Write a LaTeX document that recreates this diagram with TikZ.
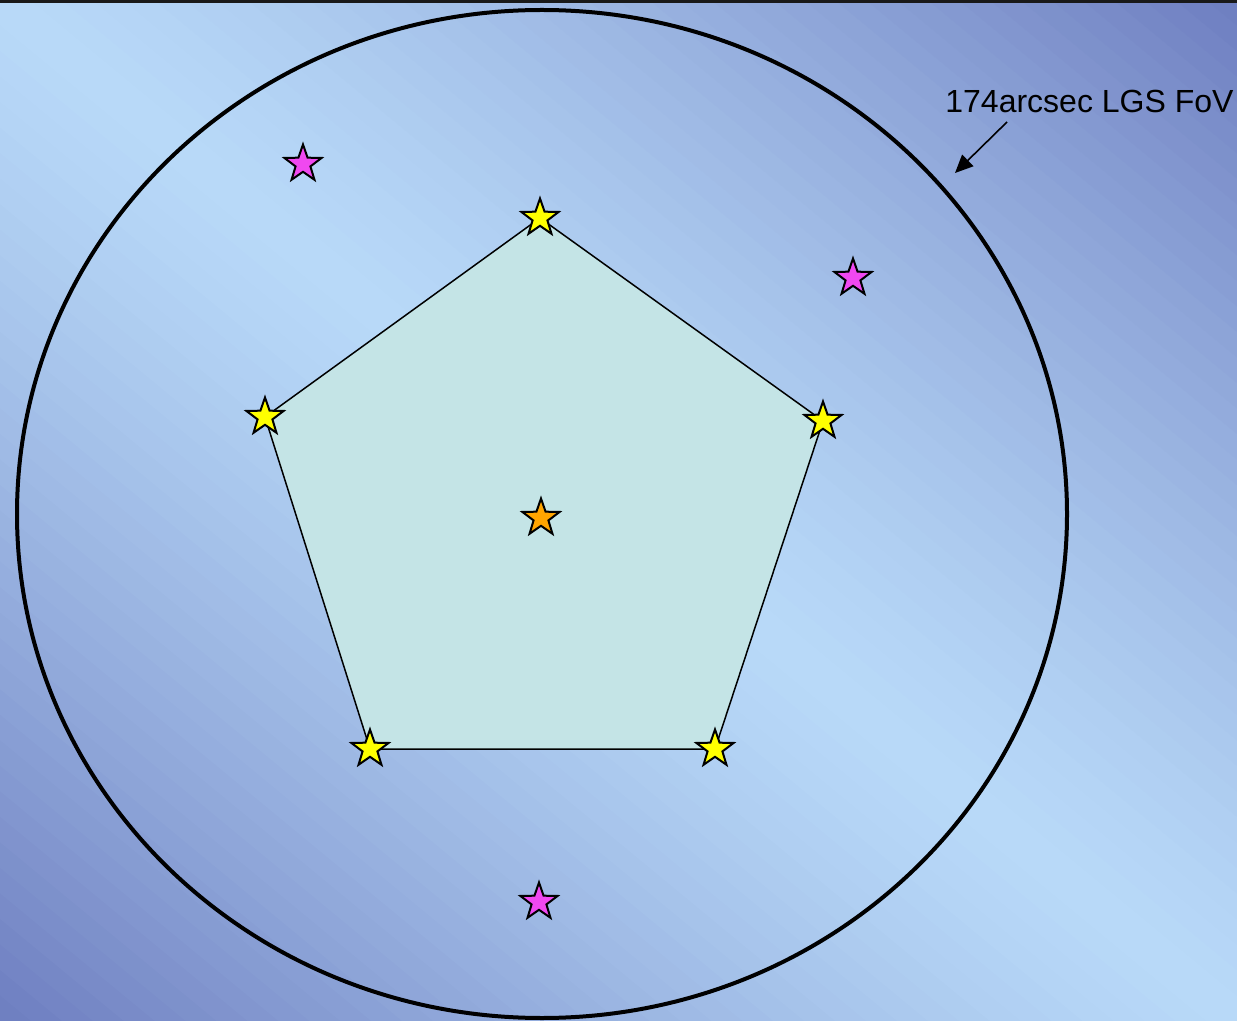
\documentclass[tikz,border=0pt]{standalone}
\usepackage{fontspec}
\setmainfont{Liberation Sans}
\usetikzlibrary{shapes.geometric,arrows.meta}
\definecolor{bgdark}{RGB}{110,126,192}
\definecolor{bglight}{RGB}{184,217,248}
\definecolor{pentfill}{RGB}{196,228,230}
\definecolor{staryellow}{RGB}{255,255,0}
\definecolor{starorange}{RGB}{255,165,0}
\definecolor{starmagenta}{RGB}{240,72,240}
\begin{document}
\begin{tikzpicture}[x=0.5pt,y=-0.5pt,
  starbase/.style={star, star points=5, star point ratio=2.5, minimum size=19.5pt, inner sep=0pt, draw=black, line width=1pt},
  ystar/.style={starbase, fill=staryellow},
  ostar/.style={starbase, fill=starorange},
  mstar/.style={starbase, fill=starmagenta},
  fov/.style={draw=black, line width=2pt},
  pent/.style={draw=black, line width=0.75pt, fill=pentfill},
  lbl/.style={font=\fontsize{16}{19}\selectfont, text=black, inner sep=0pt, anchor=base west},
  pointer/.style={draw=black, line width=0.8pt, -{Triangle[length=9pt,width=8pt]}}
]
\path[use as bounding box] (0,0) rectangle (1237,1021);

% background: diagonal gradient, light along the main diagonal, dark at the other two corners
\begin{scope}
\clip (0,0) rectangle (1237,1021);
\foreach \i in {-40,...,39} {
  \pgfmathsetmacro{\a}{\i/40}
  \pgfmathsetmacro{\b}{(\i+1.4)/40}
  \pgfmathsetmacro{\f}{100*pow(abs((\i+0.5)/40),1.3)}
  \fill[bgdark!\f!bglight] ({1237*(\a-1)},-1021) -- ({1237*(\a+2)},2042) -- ({1237*(\b+2)},2042) -- ({1237*(\b-1)},-1021) -- cycle;
}
\end{scope}
\fill[black!90] (0,0) rectangle (1237,3);

% field of view
\draw[fov] (542,514) ellipse [x radius=525, y radius=504];

% pentagon vertices
\coordinate (p1) at (540,218);
\coordinate (p2) at (823,421);
\coordinate (p3) at (715,749);
\coordinate (p4) at (370,749);
\coordinate (p5) at (265,417);
\path[pent] (p1) -- (p2) -- (p3) -- (p4) -- (p5) -- cycle;

% stars
\node[ystar] (s1) at (p1) {};
\node[ystar] (s2) at (p2) {};
\node[ystar] (s3) at (p3) {};
\node[ystar] (s4) at (p4) {};
\node[ystar] (s5) at (p5) {};
\node[ostar] (sc) at (541,518) {};
\node[mstar] (m1) at (303,164) {};
\node[mstar] (m2) at (853,278) {};
\node[mstar] (m3) at (539,902) {};

% label and pointer
\node[lbl] (lab) at (945,113) {174arcsec LGS FoV};
\coordinate (astart) at (1007,122);
\coordinate (atip) at (955,173);
\draw[pointer] (astart) -- (atip);
\end{tikzpicture}
\end{document}
